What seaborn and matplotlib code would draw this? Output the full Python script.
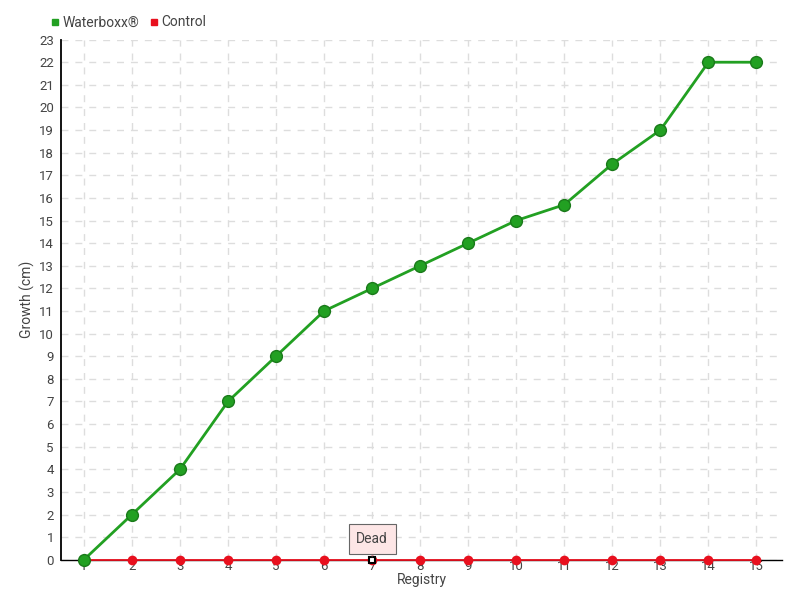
import matplotlib
matplotlib.use("Agg")
import matplotlib.pyplot as plt
import seaborn as sns
import pandas as pd
from matplotlib.lines import Line2D

registry = list(range(1, 16))
waterboxx = [0, 2, 4, 7, 9, 11, 12, 13, 14, 15, 15.7, 17.5, 19, 22, 22]
control = [0] * 15
dead_index = 7
y_ticks = list(range(0, 24))

sns.set_theme(style="white")
plt.rcParams['font.family'] = ['Roboto', 'DejaVu Sans']

df = pd.DataFrame({"Registry": registry * 2,
                   "Growth": waterboxx + control,
                   "Series": ["Waterboxx®"] * 15 + ["Control"] * 15})

fig = plt.figure(figsize=(8, 6), dpi=100)
ax = fig.add_axes([0.076, 0.067, 0.902, 0.867])

green = "#22a022"
red = "#e8101e"
sns.lineplot(data=df[df.Series == "Control"], x="Registry", y="Growth", color=red,
             linewidth=1.3, marker="o", markersize=7, markeredgewidth=0, ax=ax, legend=False,
             zorder=3, clip_on=False)
sns.lineplot(data=df[df.Series == "Waterboxx®"], x="Registry", y="Growth", color=green,
             linewidth=2.0, marker="o", markersize=8.5, markeredgecolor="#1a7a1a",
             markeredgewidth=1, ax=ax, legend=False, zorder=4, clip_on=False)
# Dead marker
ax.plot([dead_index], [control[dead_index - 1]], marker="s", markersize=5, color="white",
        markeredgecolor="black", markeredgewidth=1.5, zorder=6, linestyle="none", clip_on=False)
ax.annotate("Dead", xy=(dead_index, 0), xytext=(0, 15), textcoords="offset points",
            ha="center", va="center", fontsize=10, color="#444444",
            bbox=dict(boxstyle="square,pad=0.55", fc="#fde6e6", ec="#666666", lw=0.8),
            arrowprops=dict(arrowstyle="-", color="#666666", lw=0.8), zorder=7)

ax.set_xlim(0.52, 15.54)
ax.set_ylim(0, 23)
ax.set_xticks(registry)
ax.set_yticks(y_ticks)
ax.tick_params(axis="both", labelsize=9.5, colors="#444444", length=4, width=1, pad=1)
ax.tick_params(axis="x", length=0, pad=0)
ax.grid(True, color="#dddddd", linestyle=(0, (5, 5)), linewidth=1)
for s in ["top", "right"]:
    ax.spines[s].set_visible(False)
ax.spines["left"].set_color("black")
ax.spines["bottom"].set_color("black")
ax.spines["left"].set_linewidth(1.3)
ax.spines["bottom"].set_linewidth(1)
ax.set_xlabel("Registry", fontsize=10, color="#444444", labelpad=0)
ax.set_ylabel("Growth (cm)", fontsize=10, color="#444444")
ax.yaxis.set_label_coords(-0.036, 0.5)

handles = [Line2D([], [], marker="s", color=green, linestyle="none", markersize=5),
           Line2D([], [], marker="s", color=red, linestyle="none", markersize=5)]
fig.legend(handles, ["Waterboxx®", "Control"], loc="upper left", bbox_to_anchor=(0.045, 0.995),
           ncol=2, frameon=False, fontsize=10, handletextpad=0.0, columnspacing=0.6,
           labelcolor="#444444", handlelength=1.0)

fig.savefig("out.png", dpi=100)
